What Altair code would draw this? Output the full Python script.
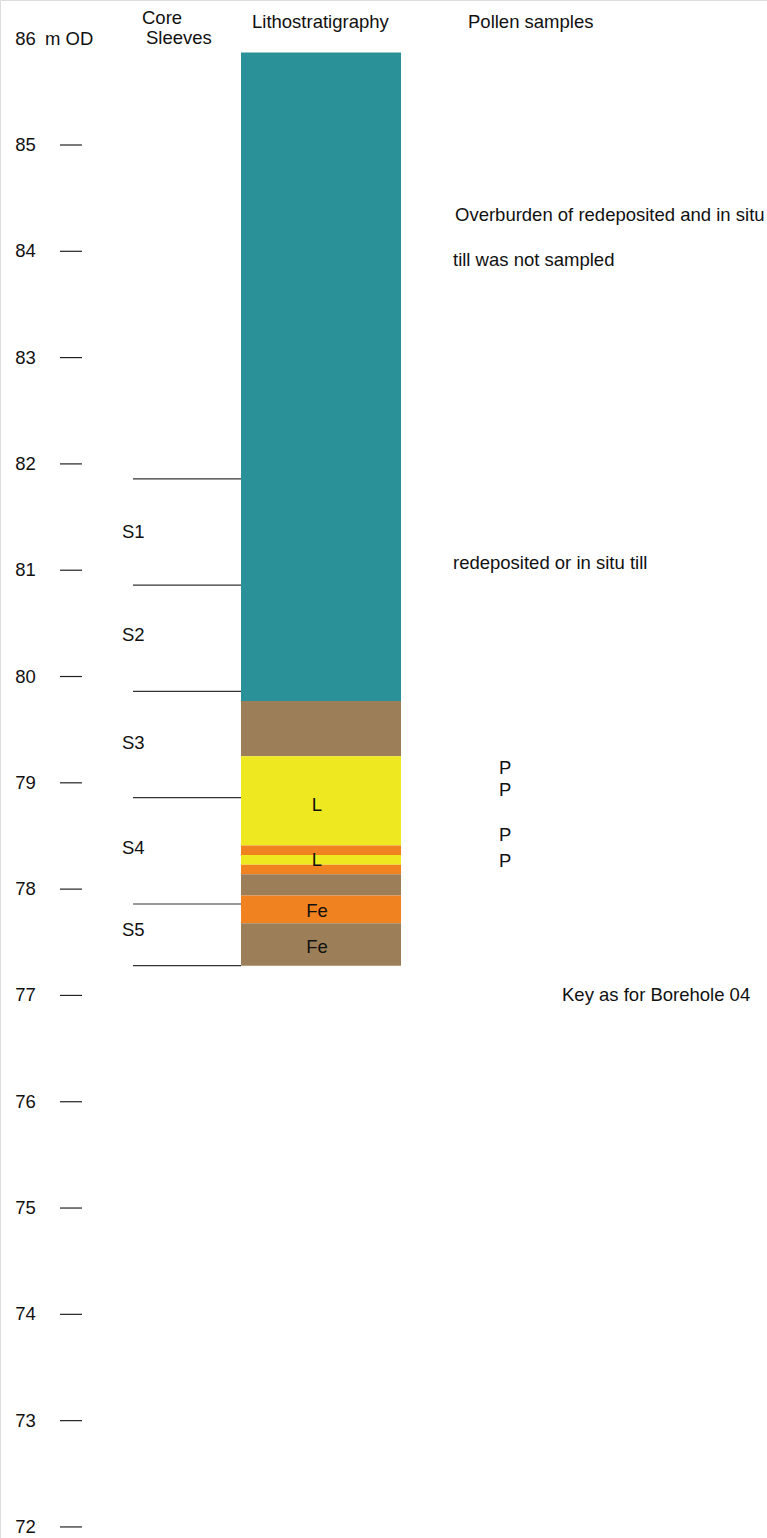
import altair as alt
import pandas as pd

# ---- data ----
tick_values = [85, 84, 83, 82, 81, 80, 79, 78, 77, 76, 75, 74, 73, 72]
tick_labels = ["86"] + [str(v) for v in tick_values]
tick_label_values = [86] + tick_values

layer_tops = [85.87, 79.77, 79.25, 78.41, 78.32, 78.23, 78.14, 77.94, 77.68]
layer_bottoms = [79.77, 79.25, 78.41, 78.32, 78.23, 78.14, 77.94, 77.68, 77.28]
layer_units = ["till", "brown", "yellow", "orange", "yellow", "orange", "brown", "orange", "brown"]

sleeve_bounds = [81.86, 80.86, 79.86, 78.86, 77.86, 77.28]
sleeve_names = ["S1", "S2", "S3", "S4", "S5"]
sleeve_label_values = [81.36, 80.39, 79.37, 78.39, 77.62]

litho_labels = ["L", "L", "Fe", "Fe"]
litho_label_values = [78.79, 78.27, 77.79, 77.46]

pollen_values = [79.14, 78.93, 78.51, 78.26]

unit_colors = {"till": "#2A9199", "brown": "#9C7F58", "yellow": "#EEE820", "orange": "#F0821F"}

FONT = "Liberation Sans"
FS = 18.5
W, H = 767, 1538

yscale = alt.Scale(domain=[71.896, 86.364])

layers_df = pd.DataFrame({"top": layer_tops, "bottom": layer_bottoms, "unit": layer_units})
ticks_df = pd.DataFrame({"v": tick_values})
tlab_df = pd.DataFrame({"v": tick_label_values, "label": tick_labels})
sleeve_df = pd.DataFrame({"v": sleeve_bounds})
slab_df = pd.DataFrame({"v": sleeve_label_values, "label": sleeve_names})
llab_df = pd.DataFrame({"v": litho_label_values, "label": litho_labels})
pollen_df = pd.DataFrame({"v": pollen_values, "label": ["P"] * len(pollen_values)})

bars = alt.Chart(layers_df).mark_rect().encode(
    x=alt.value(241), x2=alt.value(401),
    y=alt.Y("top:Q", scale=yscale, axis=None), y2="bottom:Q",
    color=alt.Color("unit:N", scale=alt.Scale(domain=list(unit_colors.keys()),
                                              range=list(unit_colors.values())), legend=None),
)

ticks = alt.Chart(ticks_df).mark_rule(color="#222222", strokeWidth=1.2).encode(
    x=alt.value(60), x2=alt.value(82), y=alt.Y("v:Q", scale=yscale, axis=None)
)

tick_text = alt.Chart(tlab_df).mark_text(font=FONT, fontSize=FS, align="center", baseline="middle", color="#111").encode(
    x=alt.value(25.5), y=alt.Y("v:Q", scale=yscale, axis=None), text="label:N"
)

sleeves = alt.Chart(sleeve_df).mark_rule(color="#333333", strokeWidth=1.2).encode(
    x=alt.value(133), x2=alt.value(241), y=alt.Y("v:Q", scale=yscale, axis=None)
)

sleeve_text = alt.Chart(slab_df).mark_text(font=FONT, fontSize=FS, align="left", baseline="middle", color="#111").encode(
    x=alt.value(122), y=alt.Y("v:Q", scale=yscale, axis=None), text="label:N"
)

litho_text = alt.Chart(llab_df).mark_text(font=FONT, fontSize=FS, align="center", baseline="middle", color="#111").encode(
    x=alt.value(317), y=alt.Y("v:Q", scale=yscale, axis=None), text="label:N"
)

pollen_text = alt.Chart(pollen_df).mark_text(font=FONT, fontSize=FS, align="left", baseline="middle", color="#111").encode(
    x=alt.value(499), y=alt.Y("v:Q", scale=yscale, axis=None), text="label:N"
)

def label(txt, x, y, align="left"):
    return alt.Chart(pd.DataFrame({"t": [txt]})).mark_text(
        font=FONT, fontSize=FS, align=align, baseline="middle", color="#111"
    ).encode(x=alt.value(x), y=alt.value(y), text="t:N")

annotations = [
    label("m OD", 45, 39),
    label("Core", 142, 18),
    label("Sleeves", 146, 38),
    label("Lithostratigraphy", 252, 22),
    label("Pollen samples", 468, 22),
    label("Overburden of redeposited and in situ", 455, 215),
    label("till was not sampled", 453, 260),
    label("redeposited or in situ till", 453, 563),
    label("Key as for Borehole 04", 562, 995),
]

chart = alt.layer(bars, ticks, tick_text, sleeves, sleeve_text, litho_text, pollen_text, *annotations).properties(
    width=W, height=H, padding=0, autosize=alt.AutoSizeParams(type="none")
).configure_view(stroke=None).configure(background="white")

chart.save("out.html", embed_options={"renderer": "svg", "actions": False})
